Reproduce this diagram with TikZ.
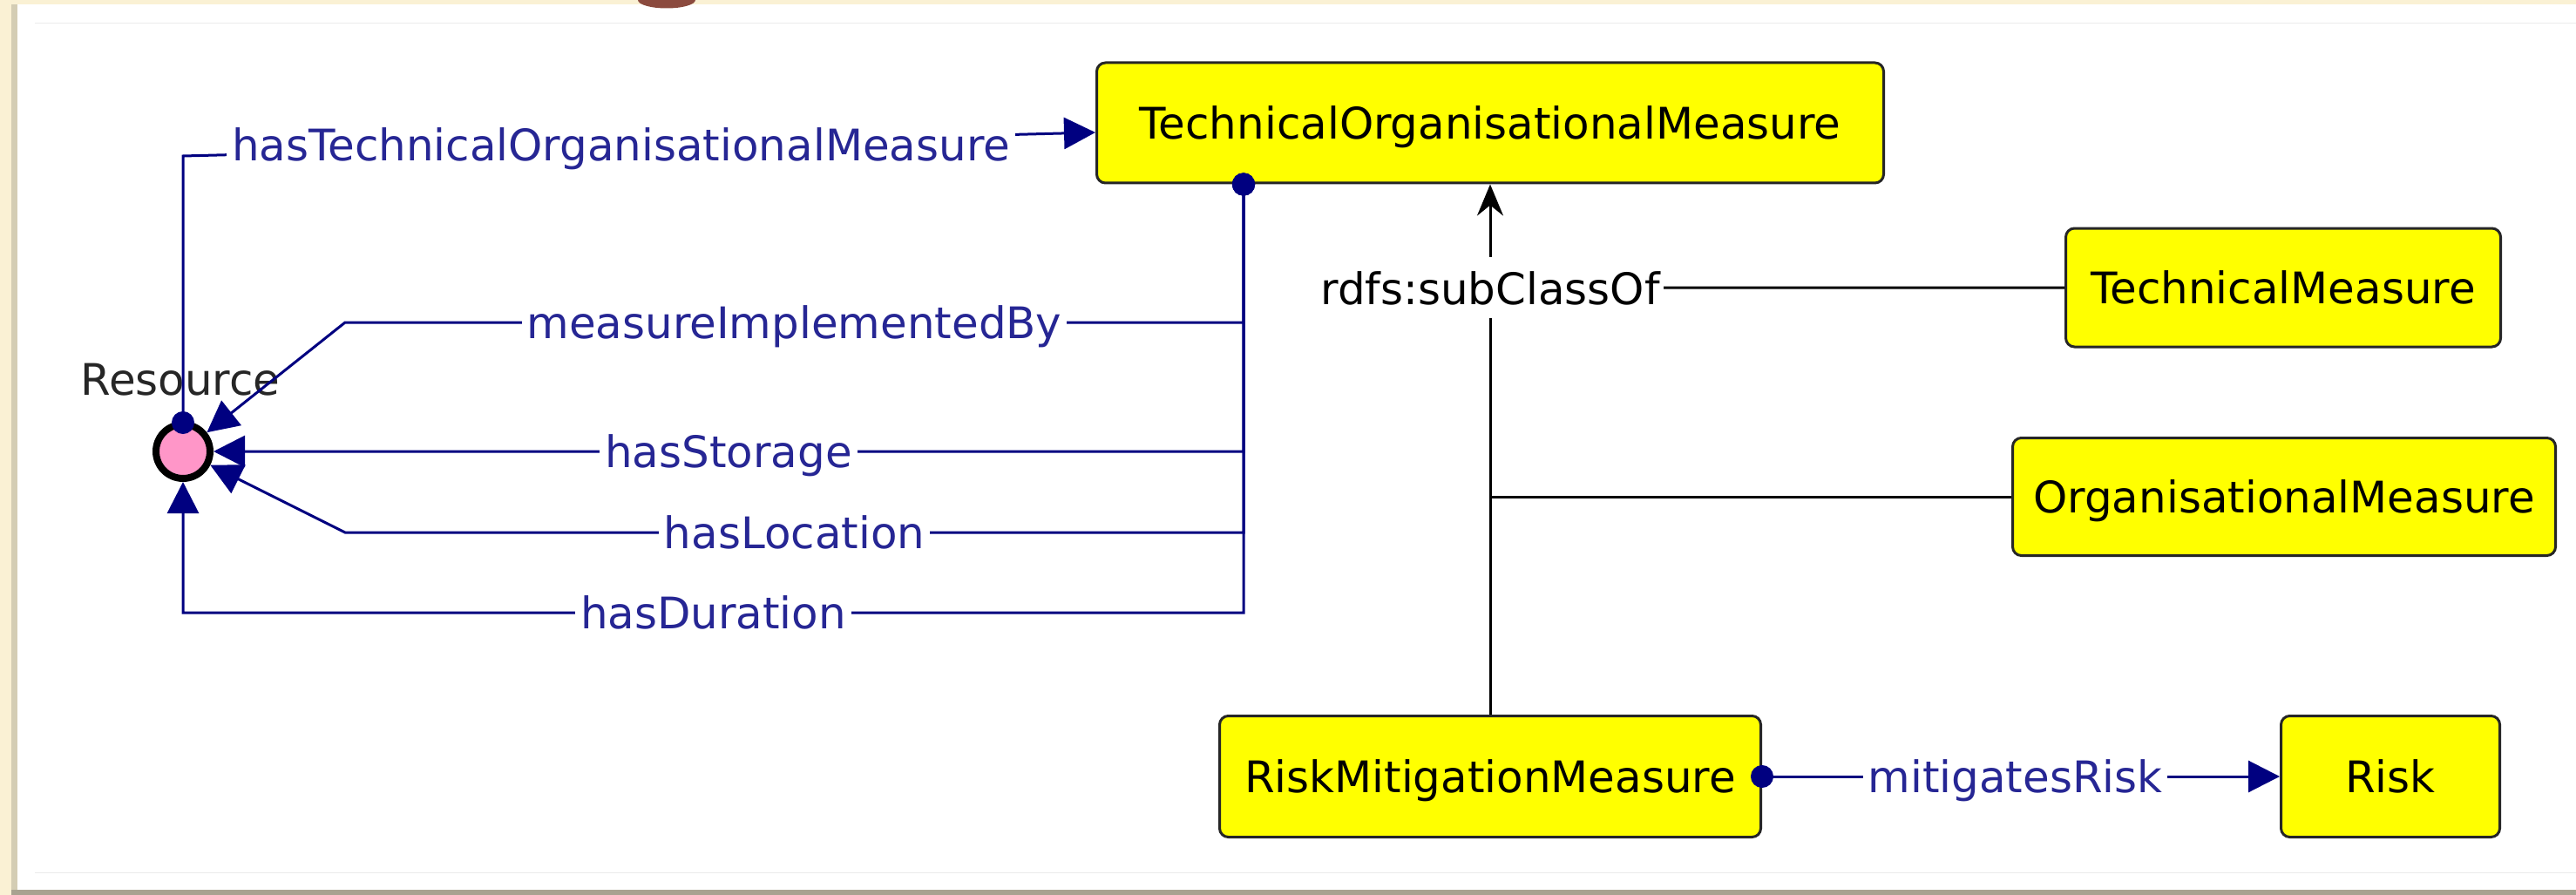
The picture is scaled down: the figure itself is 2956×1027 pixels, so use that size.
\documentclass[tikz,border=0pt]{standalone}
\usepackage{fontspec}
\setmainfont{DejaVu Sans}
\usetikzlibrary{arrows.meta,positioning}
\definecolor{navyline}{RGB}{0,0,128}
\definecolor{navytext}{RGB}{38,38,148}
\definecolor{classyellow}{RGB}{255,255,0}
\definecolor{respink}{RGB}{255,150,200}
\definecolor{cream}{RGB}{250,241,212}
\definecolor{shadowgray}{RGB}{168,162,144}
\definecolor{titlebrown}{RGB}{139,74,62}
\tikzset{
    class box/.style={rectangle, rounded corners=1mm, draw=black!85, line width=0.3mm, fill=classyellow, text=black, inner sep=0pt, text depth=0pt, align=center},
    resource node/.style={circle, draw=black, line width=0.8mm, fill=respink, minimum size=6.2mm, inner sep=0pt},
    prop/.style={draw=navyline, line width=0.3mm, arrows={Circle[length=2.6mm]-Triangle[length=3.6mm,width=3.6mm]}},
    prop label/.style={fill=white, text=navytext, inner xsep=0.6mm, inner ysep=0.5mm, text depth=0pt},
    sub edge/.style={draw=black, line width=0.3mm},
    sub label/.style={fill=white, text=black, inner xsep=0.3mm, inner ysep=1.6mm, text depth=0pt}
}
\begin{document}
\begin{tikzpicture}[x=0.1mm, y=-0.1mm, every node/.style={font=\fontsize{14.2}{17}\selectfont}]
	\useasboundingbox (0,0) rectangle (2956,1027);
	\fill[cream] (0,0) rectangle (2956,1027);
	\fill[black!15!cream] (13,5) rectangle (20,1027);
	\fill[white] (20,5) rectangle (2956,1021);
	\fill[shadowgray] (13,1021) rectangle (2956,1027);
	\draw[black!8, line width=0.1mm] (40,27) -- (2956,27) (40,1001) -- (2956,1001);
	\fill[titlebrown] (732,0) arc[start angle=180, end angle=360, x radius=3.3mm, y radius=0.95mm] -- cycle;

	\node[class box, minimum width=90.3mm, minimum height=13.8mm] (tom) at (1710,141) {TechnicalOrganisationalMeasure};
	\node[class box, minimum width=49.9mm, minimum height=13.6mm] (tm) at (2620,330) {TechnicalMeasure};
	\node[class box, minimum width=62.3mm, minimum height=13.5mm] (om) at (2621,570) {OrganisationalMeasure};
	\node[class box, minimum width=62.1mm, minimum height=13.9mm] (rmm) at (1710,891) {RiskMitigationMeasure};
	\node[class box, minimum width=25.1mm, minimum height=13.9mm] (risk) at (2743,891) {Risk};
	\node[text=black!85, text depth=0pt] (resLbl) at (207,435) {Resource};
	\node[resource node] (res) at (210,518) {};

	\draw[sub edge, arrows={-Stealth[length=3.6mm,width=3mm,inset=1.2mm]}] (rmm.north) -- node[sub label, pos=0.805] (subLbl) {rdfs:subClassOf} (tom.south);
	\draw[sub edge] (subLbl.east) -- (tm.west);
	\draw[sub edge] (rmm.north |- om.west) -- (om.west);

	\draw[prop] ([yshift=-1.5mm]res.north) -- (210,179) -- node[prop label, pos=0.48] (hasTomLbl) {hasTechnicalOrganisationalMeasure} ([yshift=-1.1mm]tom.west);
	\draw[prop] ([xshift=-28.3mm,yshift=1.3mm]tom.south) -- (1427,370) -- node[prop label] (implLbl) {measureImplementedBy} (396,370) -- (res);
	\draw[prop] ([xshift=-28.3mm,yshift=1.3mm]tom.south) -- (1427,518) -- node[prop label] (storageLbl) {hasStorage} (res);
	\draw[prop] ([xshift=-28.3mm,yshift=1.3mm]tom.south) -- (1427,611) -- node[prop label] (locationLbl) {hasLocation} (396,611) -- (res);
	\draw[prop] ([xshift=-28.3mm,yshift=1.3mm]tom.south) -- (1427,703) -- node[prop label] (durationLbl) {hasDuration} (210,703) -- (res);
	\draw[prop] ([xshift=-1.3mm]rmm.east) -- node[prop label] (riskLbl) {mitigatesRisk} (risk.west);
\end{tikzpicture}
\end{document}
